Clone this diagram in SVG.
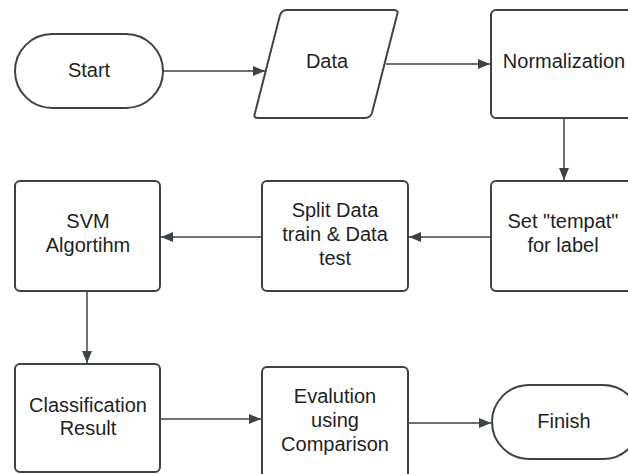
<svg xmlns="http://www.w3.org/2000/svg" width="628" height="474" viewBox="0 0 628 474">
<defs>
<style>
.s{fill:#ffffff;stroke:#3d4148;stroke-width:2;}
.t{font-family:"Liberation Sans",Arial,sans-serif;font-size:20px;fill:#1f1f1f;text-anchor:middle;}
.c{fill:none;stroke:#3d4148;stroke-width:1.5;}
</style>
<marker id="ah" markerWidth="12" markerHeight="10" refX="12" refY="5" orient="auto" markerUnits="userSpaceOnUse">
<path d="M0,0 L12,5 L0,10 Z" fill="#3d4148"/>
</marker>
</defs>
<rect width="628" height="474" fill="#ffffff"/>
<g id="connectors">
<line class="c" x1="163" y1="71" x2="265" y2="71" marker-end="url(#ah)"/>
<line class="c" x1="386" y1="64" x2="490" y2="64" marker-end="url(#ah)"/>
<line class="c" x1="564" y1="118" x2="564" y2="180" marker-end="url(#ah)"/>
<line class="c" x1="491" y1="237" x2="409" y2="237" marker-end="url(#ah)"/>
<line class="c" x1="262" y1="237" x2="161" y2="237" marker-end="url(#ah)"/>
<line class="c" x1="87" y1="291" x2="87" y2="363" marker-end="url(#ah)"/>
<line class="c" x1="160" y1="419" x2="261" y2="419" marker-end="url(#ah)"/>
<line class="c" x1="408" y1="423" x2="491" y2="423" marker-end="url(#ah)"/>
</g>
<g id="start">
<rect class="s" x="15" y="34" width="148" height="74" rx="37" ry="37"/>
<text class="t" x="89" y="77">Start</text>
</g>
<g id="data">
<path class="s" d="M287,10 L394,10 Q399,10 397,15 L372,113 Q370,118 365,118 L258,118 Q253,118 255,113 L280,15 Q282,10 287,10 Z"/>
<text class="t" x="327" y="68">Data</text>
</g>
<g id="normalization">
<rect class="s" x="491" y="10" width="146" height="108" rx="5" ry="5"/>
<text class="t" x="564" y="68">Normalization</text>
</g>
<g id="set-label">
<rect class="s" x="491" y="181" width="146" height="110" rx="5" ry="5"/>
<text class="t" x="563" y="228">Set "tempat"</text>
<text class="t" x="563" y="252">for label</text>
</g>
<g id="split">
<rect class="s" x="262" y="181" width="146" height="110" rx="5" ry="5"/>
<text class="t" x="335" y="217">Split Data</text>
<text class="t" x="335" y="241">train &amp; Data</text>
<text class="t" x="335" y="265">test</text>
</g>
<g id="svm">
<rect class="s" x="15" y="181" width="145" height="110" rx="5" ry="5"/>
<text class="t" x="88" y="228">SVM</text>
<text class="t" x="88" y="252">Algortihm</text>
</g>
<g id="classification">
<rect class="s" x="15" y="364" width="145" height="108" rx="5" ry="5"/>
<text class="t" x="88" y="412">Classification</text>
<text class="t" x="88" y="435">Result</text>
</g>
<g id="evaluation">
<rect class="s" x="262" y="367" width="146" height="112" rx="5" ry="5"/>
<text class="t" x="335" y="403">Evalution</text>
<text class="t" x="335" y="427">using</text>
<text class="t" x="335" y="451">Comparison</text>
</g>
<g id="finish">
<rect class="s" x="492" y="385" width="148" height="74" rx="37" ry="37"/>
<text class="t" x="564" y="428">Finish</text>
</g>
</svg>
